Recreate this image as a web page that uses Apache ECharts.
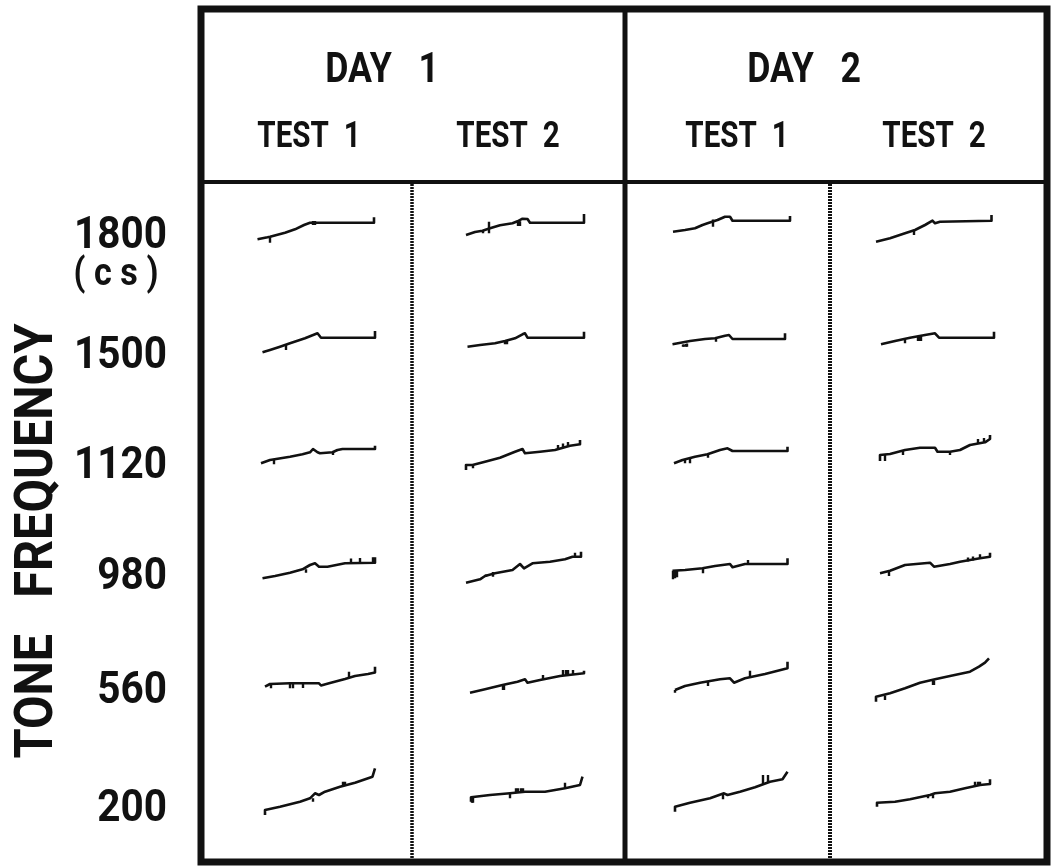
<!DOCTYPE html>
<html>
<head>
<meta charset="utf-8">
<script src="https://cdn.jsdelivr.net/npm/echarts@6/dist/echarts.min.js"></script>
<style>
  html, body { margin: 0; background: #fff; }
  #chart { width: 1054px; height: 867px; }
</style>
</head>
<body>
<div id="chart"></div>
<script>
const days = ['DAY   1', 'DAY   2'];
const tests = ['TEST  1', 'TEST  2'];
const freqLabels = ['1800', '1500', '1120', '980', '560', '200'];

// cumulative records, points are [time, cumulative responses]
// each row: Day1 Test1, Day1 Test2, Day2 Test1, Day2 Test2
const rec1800 = [
  [[7.5,20.7],[17.5,22.7],[20,23.3],[35,27.3],[45,30.7],[54,35],[60,37.3],[68.5,37.3],[124,37.3],[124,42.7]],
  [[8,25],[17,28],[24.5,29.3],[32,31.7],[42,34.7],[54.5,36.7],[59.5,38.7],[64.5,41.3],[69.5,41],[72,37.3],[126,37.3],[126,46]],
  [[8,28.3],[20,30],[30,31.7],[37.5,35],[42.5,36.7],[52.5,40],[60,43.3],[65,43.3],[67.5,39.3],[125,39.3],[125,44]],
  [[6,18.3],[20,21.7],[35,26.7],[45,30],[55,35],[62.5,39.3],[65,36.7],[70,38.3],[121.5,39.3],[121.5,45]]
];
const rec1500 = [
  [[12.5,22.7],[20,25],[30,28.3],[40,31.7],[55,36.7],[65,40.7],[67.5,41.7],[71,37.3],[125,37.3],[125,44]],
  [[9.5,28.3],[22,30],[37,31.7],[47,34],[57,36.7],[64.5,40.7],[67,41.7],[69.5,37.3],[126,37.3],[126,43.3]],
  [[7.5,30.7],[25,34],[40,36],[50,36.7],[60,39.3],[64,40],[67.5,36],[120,36],[120,41.7]],
  [[11,30.7],[25,34],[40,37.3],[55,40],[65,41.7],[69,37.3],[124,37.3],[124,43.3]]
];
const rec1120 = [
  [[11,21.7],[20,25],[40,28.3],[52.5,30.7],[60,32.7],[63,36],[65,36],[67.5,32.7],[70,31.7],[82.5,32.7],[87.5,35],[92.5,36],[125,36],[125,39.3]],
  [[8,15],[8,20],[14.5,20],[27,23.3],[42,27.3],[57,33.3],[64.5,36],[67,31.7],[82,33.3],[97,35],[112,39.3],[122,40.7],[122,45]],
  [[9,21.7],[17.5,25],[30,28.3],[42.5,30.7],[55,35],[62.5,36.7],[67.5,34],[122.5,34],[122.5,38.3]],
  [[10,24],[10,30],[20,31],[35,35],[50,37.3],[65,37.3],[67.5,33.3],[80,33.3],[90,35],[100,40],[115,42.7],[120,46],[120,50]]
];
const rec980 = [
  [[12.5,21.7],[25,24],[40,27.3],[52.5,30.7],[60,35],[65,36.7],[69,33.3],[77.5,33.3],[95,36.7],[125,37.3],[125,42.7]],
  [[8,17.3],[22,20.7],[27,24],[37,26.7],[54.5,30],[62,36],[66,31.7],[74.5,36.7],[92,38.3],[107,40.7],[114.5,43.3],[123,43.3],[123,48.3]],
  [[7.5,29.3],[20,30],[37.5,31.7],[50,34],[65,36],[67.5,32.7],[80,36],[122.5,36],[122.5,41.7]],
  [[10,26.7],[20,29.3],[35,35],[60,37.3],[64,33.3],[80,36],[90,38.3],[110,41.7],[120,43.3],[120,47.3]]
];
const rec560 = [
  [[15,23.3],[20,26],[40,26.7],[55,26.7],[69,26.7],[71,24.5],[80,27],[95,31],[105,34],[118,36],[125,37.5],[125,43.3]],
  [[12,17.3],[27,20.7],[44.5,25],[59.5,28.3],[67,30.7],[69.5,27.3],[82,30],[102,34],[126,36.7],[126,39.3]],
  [[10,20],[20,24],[35,27.3],[55,30.7],[65,31.7],[69,27.3],[80,31.7],[100,36],[122.5,41.7],[122.5,48.3]],
  [[6,8.3],[6,13.3],[20,16.7],[35,21.7],[50,27.3],[65,30.7],[80,34],[100,38.3],[109,43.3],[115,47.3],[119,51.7]]
];
const rec200 = [
  [[15,5],[15,10],[30,13.3],[50,18.3],[60,21.7],[65,26.7],[69,25],[75,28.3],[90,33.3],[105,37.3],[122.5,43.3],[125,51.7]],
  [[13,18.3],[13,22.7],[32,25],[52,26.7],[67,28.3],[87,28.3],[107,31.7],[122,35],[124.5,43.3]],
  [[10,8.3],[10,13.3],[25,17.3],[45,21.7],[59,26.7],[62.5,25],[75,28.3],[90,32.7],[105,38.3],[117.5,40.7],[122.5,48.3]],
  [[7,13.3],[7,17.3],[25,18.3],[40,20.7],[60,25],[65,26.7],[80,28.3],[95,31.7],[110,35],[120,36],[120,40.7]]
];

// pen marks on the records: [time, from, to]
const pips1800 = [
  [[20,23.3,17.3],[62.5,35,39],[65,35,39]],
  [[24.5,29.3,26.7],[31,38.3,26.7],[59.5,38.7,34],[60.5,38.7,34],[61.5,38.7,34]],
  [[47.5,40.5,33.3]],
  [[44,30.3,25]]
];
const pips1500 = [
  [[36,30,25]],
  [[47,34,30.7],[48.5,34.5,30.7]],
  [[17.5,30.5,28.3],[19,30.5,28.3],[20.5,31,28.3],[22,31.5,28.3],[51,36.7,33.3]],
  [[35,35.5,31.7],[48,38.5,34],[49.5,38.5,34],[51,39,34]]
];
const pips1120 = [
  [[24,26,20.7],[82.5,33,30]],
  [[14.5,20,16.7],[99.5,35.5,40],[104.5,37,41.5],[109.5,38.5,43]],
  [[20,25.5,21.7],[25,27,21.7],[42.5,30.7,27.3]],
  [[15,30.5,24],[32.5,34.5,30],[80,33.3,30],[107.5,41,46],[114,42,47]]
];
const pips980 = [
  [[56,30.7,27.3],[101,36,41.5],[110,36.7,42],[122.5,37.3,42.7]],
  [[27.5,25.5,23.3],[35,28,23.3],[117,43.3,47.3]],
  [[7.5,29.3,20.7],[9.5,29.3,21.7],[11.5,29.5,22.7],[37.5,31.7,26.7],[82.5,36,40]],
  [[19,29.3,24],[97.5,38.5,42.5],[102.5,39.5,43.5],[110,41.7,45.7]]
];
const pips560 = [
  [[21,26,21.7],[40,26.7,21.7],[42.5,26.7,21.7],[52.5,26.7,22],[99,33,38.3]],
  [[44.5,25,20],[45.5,25,20],[85,30.7,35],[105,34.5,40],[107.5,35,40],[110,35.5,40],[115,36,40]],
  [[10,20,17.3],[42.5,29,24],[85,33.3,39.3]],
  [[15,14.5,10],[62.5,29.5,25],[63.5,29.5,25]]
];
const pips200 = [
  [[62.5,21.7,18.3],[92.5,34,38.3],[95,34.5,38.3]],
  [[14,22.7,17.3],[15,22.7,17.3],[52,26.7,21.7],[57.5,27,31.7],[60,27.5,31.7],[62.5,28,31.7],[65,28,31.7],[107,31.7,37.3]],
  [[57.5,26,20.7],[97.5,35,45],[102.5,37,45]],
  [[57.5,24,21.7],[62.5,26,21.7],[105,34,38.3],[107.5,34.5,38.3],[110,35,38.3]]
];

const records = [rec1800, rec1500, rec1120, rec980, rec560, rec200];
const pips = [pips1800, pips1500, pips1120, pips980, pips560, pips200];

const ink = '#111';
const colLeft = [250, 458, 665, 870];
const rowBottom = [260, 375, 485, 600, 710, 820];
const labelY = [237, 357, 467, 578, 692, 810];

const grid = [], xAxis = [], yAxis = [], series = [];
records.forEach((row, r) => {
  row.forEach((rec, c) => {
    const i = grid.length;
    grid.push({ left: colLeft[c], top: rowBottom[r] - 60, width: 130, height: 60 });
    xAxis.push({ gridIndex: i, type: 'value', min: 0, max: 130, show: false });
    yAxis.push({ gridIndex: i, type: 'value', min: 0, max: 60, show: false });
    series.push({
      type: 'line', xAxisIndex: i, yAxisIndex: i, data: rec,
      showSymbol: false, silent: true,
      lineStyle: { color: ink, width: 2.6, join: 'round' }
    });
    series.push({
      type: 'lines', coordinateSystem: 'cartesian2d', xAxisIndex: i, yAxisIndex: i,
      silent: true,
      lineStyle: { color: ink, width: 2.4, opacity: 1 },
      data: pips[r][c].map(p => ({ coords: [[p[0], p[1]], [p[0], p[2]]] }))
    });
  });
});

function txt(x, y, text, size, weight, scaleX, align, rotation) {
  return {
    type: 'text', x: x, y: y, scaleX: scaleX || 1, rotation: rotation || 0,
    style: {
      text: text, fill: ink,
      font: weight + ' ' + size + 'px Roboto, "DejaVu Sans", sans-serif',
      textAlign: align || 'center', textVerticalAlign: 'middle',
      align: align || 'center', verticalAlign: 'middle'
    }
  };
}

const graphic = [
  // frame
  { type: 'rect', shape: { x: 201, y: 9, width: 846, height: 853 },
    style: { fill: 'none', stroke: ink, lineWidth: 7 } },
  { type: 'line', shape: { x1: 200, y1: 182, x2: 1048, y2: 182 },
    style: { stroke: ink, lineWidth: 4 } },
  { type: 'line', shape: { x1: 625, y1: 8, x2: 625, y2: 862 },
    style: { stroke: ink, lineWidth: 5 } },
  { type: 'line', shape: { x1: 412, y1: 184, x2: 412, y2: 862 },
    style: { stroke: ink, lineWidth: 3.5, lineDash: [2, 1] } },
  { type: 'line', shape: { x1: 830, y1: 184, x2: 830, y2: 862 },
    style: { stroke: ink, lineWidth: 4, lineDash: [2, 1] } },
  // headers
  txt(382, 71, days[0], 42, 'bold', 0.85),
  txt(804, 71, days[1], 42, 'bold', 0.85),
  txt(309, 138, tests[0], 37, 'bold', 0.8),
  txt(508, 138, tests[1], 37, 'bold', 0.8),
  txt(737, 138, tests[0], 37, 'bold', 0.8),
  txt(934, 138, tests[1], 37, 'bold', 0.8),
  // axis title
  txt(38, 541, 'TONE   FREQUENCY', 54, 'bold', 0.9, 'center', Math.PI / 2),
  txt(116, 275, '( c s )', 38, 'bold', 0.9, 'center')
];
freqLabels.forEach((f, r) => graphic.push(txt(167, labelY[r], f, 45, 'bold', 0.9, 'right')));

const chart = echarts.init(document.getElementById('chart'));
chart.setOption({
  backgroundColor: '#fff',
  animation: false,
  grid: grid, xAxis: xAxis, yAxis: yAxis, series: series,
  graphic: graphic
});
</script>
</body>
</html>
